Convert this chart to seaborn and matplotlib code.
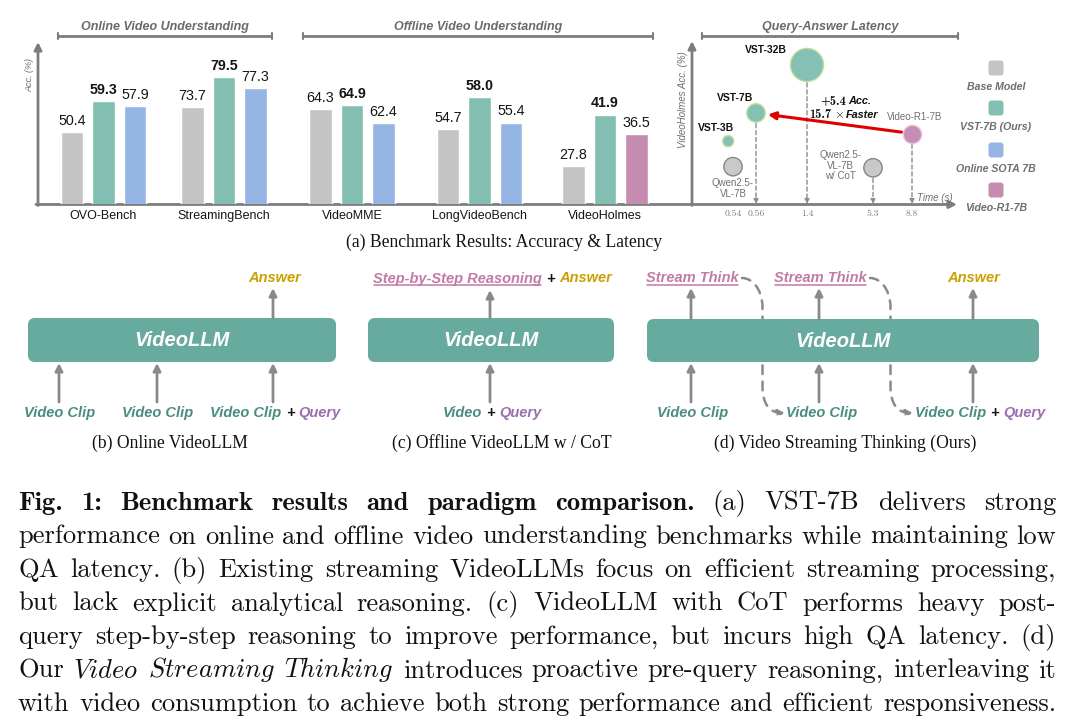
import numpy as np
import pandas as pd
import matplotlib
matplotlib.use("Agg")
import matplotlib.pyplot as plt
import seaborn as sns
from matplotlib.patches import FancyBboxPatch, FancyArrowPatch
from matplotlib.path import Path

# ---------------- data ----------------
BENCHMARKS = ["OVO-Bench", "StreamingBench", "VideoMME", "LongVideoBench", "VideoHolmes"]
BASE_ACC = [50.4, 73.7, 64.3, 54.7, 27.8]
VST7B_ACC = [59.3, 79.5, 64.9, 58.0, 41.9]
THIRD_ACC = [57.9, 77.3, 62.4, 55.4, 36.5]
THIRD_MODEL = ["Online SOTA 7B", "Online SOTA 7B", "Online SOTA 7B", "Online SOTA 7B", "Video-R1-7B"]

LAT_MODELS = ["VST-3B", "Qwen2.5-VL-7B", "VST-7B", "VST-32B", "Qwen2.5-VL-7B w/ CoT", "Video-R1-7B"]
LAT_TIME = [0.50, 0.54, 0.56, 1.4, 5.3, 8.8]
LAT_ACC = [34.5, 27.8, 41.9, 54.5, 27.5, 36.5]
LAT_PARAMS = [3, 7, 7, 32, 7, 7]
LAT_FAMILY = ["VST", "Base", "VST", "VST", "Base", "R1"]
TIME_TICKS = [0.54, 0.56, 1.4, 5.3, 8.8]
TIME_TICK_LABELS = ["0.54", "0.56", "1.4", "5.3", "8.8"]
DROP_LINES = ["VST-7B", "VST-32B", "Qwen2.5-VL-7B w/ CoT", "Video-R1-7B"]

LEGEND_LABELS = ["Base Model", "VST-7B (Ours)", "Online SOTA 7B", "Video-R1-7B"]

CAPTION = [
    [("b", "Fig. 1: Benchmark results and paradigm comparison."), ("r", "(a) VST-7B delivers strong")],
    [("r", "performance on online and offline video understanding benchmarks while maintaining low")],
    [("r", "QA latency. (b) Existing streaming VideoLLMs focus on efficient streaming processing,")],
    [("r", "but lack explicit analytical reasoning. (c) VideoLLM with CoT performs heavy post-")],
    [("r", "query step-by-step reasoning to improve performance, but incurs high QA latency. (d)")],
    [("r", "Our"), ("i", "Video Streaming Thinking"), ("r", "introduces proactive pre-query reasoning, interleaving it")],
    [("r", "with video consumption to achieve both strong performance and efficient responsiveness.")],
]

# ---------------- style ----------------
sns.set_style("white")
plt.rcParams["font.family"] = ["Liberation Sans", "DejaVu Sans"]
plt.rcParams["mathtext.fontset"] = "cm"

MODEL_COLORS = {"Base Model": "#c4c4c4", "VST-7B (Ours)": "#82bfb2",
                "Online SOTA 7B": "#95b5e4", "Video-R1-7B": "#c48cae"}
FAMILY_STYLE = {"VST": ("#84c0b3", "#bddc9e"), "Base": ("#c9c9c9", "#868686"),
                "R1": ("#c68db5", "#e6c8dc")}
SIZES = {3: 63, 7: 175, 32: 565}
AX_C = "#7d7d7d"
TITLE_C = "#6a6a6a"
LABEL_GRAY = "#6e6e6e"
BOX_C = "#67aa9e"
ARROW_C = "#8a8a8a"
CLIP_C = "#4b8c80"
QUERY_C = "#9a6fae"
ANSWER_C = "#c9a100"
THINK_C = "#c27aa8"

W, H = 1074, 726
fig = plt.figure(figsize=(W / 100, H / 100), dpi=100)
fig.patch.set_facecolor("white")


def rect(x0, y0, x1, y1):
    return [x0 / W, 1 - y1 / H, (x1 - x0) / W, (y1 - y0) / H]


# overlay axes in pixel coordinates (drawn first -> behind)
ov = fig.add_axes([0, 0, 1, 1])
ov.set_xlim(0, W)
ov.set_ylim(H, 0)
ov.axis("off")
renderer = fig.canvas.get_renderer()

# ---------------- (a) bar groups ----------------
bar_df = pd.DataFrame({
    "benchmark": np.repeat(BENCHMARKS, 3),
    "model": [m for i in range(len(BENCHMARKS)) for m in ("Base Model", "VST-7B (Ours)", THIRD_MODEL[i])],
    "acc": [v for trip in zip(BASE_ACC, VST7B_ACC, THIRD_ACC) for v in trip],
})
GROUP_CENTERS = [103.5, 224, 352, 479.5, 605]
YLIMS = [(29.7, 75.9), (54.8, 85.9), (51.5, 73.1), (47.1, 63.4), (17.3, 61.3)]
SLOT = 31.5
for i, b in enumerate(BENCHMARKS):
    c = GROUP_CENTERS[i]
    ax = fig.add_axes(rect(c - 1.5 * SLOT, 44, c + 1.5 * SLOT, 204))
    sub = bar_df[bar_df.benchmark == b]
    sns.barplot(data=sub, x="model", y="acc", hue="model", palette=MODEL_COLORS,
                width=0.73, saturation=1, errorbar=None, legend=False, ax=ax)
    ax.set_xlim(-0.5, 2.5)
    ax.set_ylim(*YLIMS[i])
    ax.set_facecolor("none")
    for s in ax.spines.values():
        s.set_visible(False)
    ax.set_yticks([])
    ax.set_xticks([1])
    ax.set_xticklabels([b], fontsize=9, color="#151515")
    ax.tick_params(axis="x", length=0, pad=4)
    ax.set_xlabel("")
    ax.set_ylabel("")
    for cont, m in zip(ax.containers, sub.model):
        ax.bar_label(cont, fmt="%.1f", padding=3, fontsize=10.3, color="#151515",
                     fontweight="bold" if m.startswith("VST") else "normal")

# axis arrows
arrow_kw = dict(arrowstyle="-|>", color=AX_C, lw=2, mutation_scale=11, shrinkA=0, shrinkB=0)
ov.annotate("", xy=(38, 42), xytext=(38, 205.5), arrowprops=arrow_kw)
ov.annotate("", xy=(957, 204.5), xytext=(36, 204.5), arrowprops=arrow_kw)
ov.annotate("", xy=(692, 41), xytext=(692, 205.5), arrowprops=arrow_kw)
ov.text(30, 75, "Acc. (%)", rotation=90, ha="center", va="center", fontsize=6.5,
        style="italic", color=LABEL_GRAY)
ov.text(683, 100, "VideoHolmes Acc. (%)", rotation=90, ha="center", va="center", fontsize=7,
        style="italic", color=LABEL_GRAY)
ov.text(935, 198, "Time (s)", ha="center", va="center", fontsize=7, style="italic", color=LABEL_GRAY)

# brackets with titles
for (x0, x1, title) in [(58, 272, "Online Video Understanding"),
                        (303, 653, "Offline Video Understanding"),
                        (702, 958, "Query-Answer Latency")]:
    ov.plot([x0, x1], [36, 36], color=AX_C, lw=2, solid_capstyle="butt")
    ov.plot([x0, x0], [33, 39], color=AX_C, lw=1.5)
    ov.plot([x1, x1], [33, 39], color=AX_C, lw=1.5)
    ov.text((x0 + x1) / 2, 27, title, ha="center", va="center", fontsize=9,
            fontweight="bold", style="italic", color=TITLE_C)

# ---------------- (a) latency scatter ----------------
lat = pd.DataFrame({"model": LAT_MODELS, "time": LAT_TIME, "acc": LAT_ACC,
                    "params": LAT_PARAMS, "family": LAT_FAMILY})
TIME_ANCH = [0.2, 0.54, 0.56, 1.4, 5.3, 8.8, 14.0]
SLOT_ANCH = [0, 41, 64, 115, 181, 220, 261]


def fwd(t):
    return np.interp(t, TIME_ANCH, SLOT_ANCH)


def inv(s):
    return np.interp(s, SLOT_ANCH, TIME_ANCH)


axs = fig.add_axes(rect(692, 44, 953, 204))
axs.set_xscale("function", functions=(fwd, inv))
for fam, (fc, ec) in FAMILY_STYLE.items():
    sns.scatterplot(data=lat[lat.family == fam], x="time", y="acc", size="params",
                    sizes=SIZES, color=fc, edgecolor=ec, linewidth=1, legend=False,
                    ax=axs, zorder=4)
axs.set_xlim(0.2, 14)
axs.set_ylim(18, 60)
axs.set_facecolor("none")
for s in axs.spines.values():
    s.set_visible(False)
axs.set_yticks([])
axs.set_xticks(TIME_TICKS)
axs.set_xticklabels(TIME_TICK_LABELS, fontsize=7, color="#7a7a7a", family="cmr10")
axs.tick_params(axis="x", length=0, pad=4)
axs.set_xlabel("")
axs.set_ylabel("")

radius = {m: np.sqrt(SIZES[p]) / 2 for m, p in zip(LAT_MODELS, LAT_PARAMS)}
for _, r in lat.iterrows():
    if r.model in DROP_LINES:
        axs.annotate("", xy=(r.time, 18), xytext=(r.time, r.acc),
                     arrowprops=dict(arrowstyle="-|>", color="#8c8c8c", lw=1,
                                     linestyle=(0, (3, 2)), mutation_scale=7,
                                     shrinkA=radius[r.model] + 1, shrinkB=0), zorder=2)

LABELS = {
    "VST-3B": ("VST-3B", (-12, 13), "bold", "#111111", 7.5),
    "VST-7B": ("VST-7B", (-21, 15), "bold", "#111111", 7.5),
    "VST-32B": ("VST-32B", (-41, 15), "bold", "#111111", 7.5),
    "Qwen2.5-VL-7B": ("Qwen2.5-\nVL-7B", (0, -22), "normal", "#707070", 7),
    "Qwen2.5-VL-7B w/ CoT": ("Qwen2.5-\nVL-7B\nw/ CoT", (-33, 2), "normal", "#707070", 7),
    "Video-R1-7B": ("Video-R1-7B", (3, 17), "normal", "#707070", 7),
}
for _, r in lat.iterrows():
    txt, off, fw, col, fs = LABELS[r.model]
    axs.annotate(txt, xy=(r.time, r.acc), xytext=off, textcoords="offset pixels",
                 ha="center", va="center", fontsize=fs, fontweight=fw, color=col,
                 linespacing=1.05, zorder=5)

p_r1 = lat[lat.model == "Video-R1-7B"].iloc[0]
p_7b = lat[lat.model == "VST-7B"].iloc[0]
axs.annotate("", xy=(p_7b.time, p_7b.acc), xytext=(p_r1.time, p_r1.acc),
             arrowprops=dict(arrowstyle="-|>", color="#e00000", lw=2.2, mutation_scale=11,
                             shrinkA=radius["Video-R1-7B"] + 1, shrinkB=radius["VST-7B"] + 2),
             zorder=3)


def inline(x, y, parts, gap=2.5):
    """Left-to-right run of differently styled text pieces (x = left, y = baseline)."""
    for s, kw in parts:
        t = ov.text(x, y, s, ha="left", va="baseline", color="#111111", zorder=6, **kw)
        x += t.get_window_extent(renderer).width + gap


NUM_KW = dict(family="cmb10", fontsize=9)
WORD_KW = dict(fontsize=7.8, fontweight="bold", style="italic")
inline(820, 104, [("+5.4", NUM_KW), ("Acc.", WORD_KW)])
inline(809, 117.5, [("15.7", NUM_KW), (r"$\times$", dict(fontsize=9)), ("Faster", WORD_KW)])

# legend
for lab, yc, yl in zip(LEGEND_LABELS, [68, 108, 150, 190], [87, 127, 169, 208]):
    ov.add_patch(FancyBboxPatch((988.5, yc - 7.5), 15, 15,
                                boxstyle="round,pad=0,rounding_size=3",
                                fc=MODEL_COLORS[lab], ec="none"))
    ov.text(996, yl, lab, ha="center", va="center", fontsize=7.6, fontweight="bold",
            style="italic", color=LABEL_GRAY)

ov.text(504, 242, "(a) Benchmark Results: Accuracy & Latency", ha="center", va="center",
        fontsize=12.7, family="Liberation Serif", color="#111111")


# ---------------- (b)(c)(d) diagrams ----------------
def rich(xc, y, parts, size=10.5, gap=4.5):
    texts, widths = [], []
    for s, col, ul in parts:
        t = ov.text(0, y, s, color=col, fontsize=size, fontweight="bold", style="italic",
                    ha="left", va="baseline", zorder=5)
        w = t.get_window_extent(renderer).width
        texts.append((t, ul))
        widths.append(w)
    total = sum(widths) + gap * (len(parts) - 1)
    x = xc - total / 2
    for (t, ul), w in zip(texts, widths):
        t.set_x(x)
        if ul:
            ov.plot([x + 1, x + w - 1], [y + 2.6, y + 2.6], color=THINK_C, lw=1.1, zorder=5)
        x += w + gap


def box(x0, y0, x1, y1):
    ov.add_patch(FancyBboxPatch((x0, y0), x1 - x0, y1 - y0,
                                boxstyle="round,pad=0,rounding_size=7",
                                fc=BOX_C, ec="none", zorder=3))
    ov.text((x0 + x1) / 2, (y0 + y1) / 2 + 1, "VideoLLM", ha="center", va="center",
            fontsize=14.5, fontweight="bold", style="italic", color="white", zorder=4)


def up(x, y0, y1):
    ov.annotate("", xy=(x, y1), xytext=(x, y0),
                arrowprops=dict(arrowstyle="-|>", color=ARROW_C, lw=2, mutation_scale=11,
                                shrinkA=0, shrinkB=0), zorder=4)


VC = ("Video Clip", CLIP_C, False)
PLUS = ("+", "#111111", False)
QRY = ("Query", QUERY_C, False)
ANS = ("Answer", ANSWER_C, False)
IN_Y, OUT_Y = 417, 282.5

# (b)
box(28, 318, 336, 362)
for x in (59, 157, 273):
    up(x, 402, 363)
up(273, 318, 288)
rich(60, IN_Y, [VC])
rich(158, IN_Y, [VC])
rich(275.5, IN_Y, [VC, PLUS, QRY])
rich(275, OUT_Y, [ANS])

# (c)
box(368, 318, 614, 362)
up(490, 402, 363)
up(490, 318, 290)
rich(492, IN_Y, [("Video", CLIP_C, False), PLUS, QRY])
rich(492.5, OUT_Y, [("Step-by-Step Reasoning", THINK_C, True), PLUS, ANS])

# (d)
box(647, 319, 1039, 362)
for x in (691, 819, 973):
    up(x, 402, 363)
    up(x, 319, 288)
rich(693, IN_Y, [VC])
rich(822, IN_Y, [VC])
rich(980, IN_Y, [VC, PLUS, QRY])
rich(692.5, OUT_Y, [("Stream Think", THINK_C, True)])
rich(820.5, OUT_Y, [("Stream Think", THINK_C, True)])
rich(974, OUT_Y, [ANS])

for dx in (0, 128):
    verts = [(742 + dx, 278), (752 + dx, 278), (761.5 + dx, 288), (762.5 + dx, 306),
             (762.5 + dx, 386), (762.5 + dx, 405), (770 + dx, 413), (785 + dx, 413)]
    codes = [Path.MOVETO, Path.CURVE4, Path.CURVE4, Path.CURVE4,
             Path.LINETO, Path.CURVE4, Path.CURVE4, Path.CURVE4]
    ov.add_patch(FancyArrowPatch(path=Path(verts, codes), arrowstyle="-|>", mutation_scale=10,
                                 color=ARROW_C, lw=1.8, linestyle=(0, (3.5, 3)), zorder=1))

for xc, txt in [(170, "(b) Online VideoLLM"), (502, "(c) Offline VideoLLM w / CoT"),
                (845, "(d) Video Streaming Thinking (Ours)")]:
    ov.text(xc, 443, txt, ha="center", va="center", fontsize=12.7,
            family="Liberation Serif", color="#111111")

# ---------------- caption paragraph (justified) ----------------
X0, X1 = 18, 1056
BASE0, LEAD = 510, 33.5


def word_text(w, st, size):
    if st == "i":
        return ov.text(0, 0, r"$\mathit{" + w + "}$", fontsize=size, color="#111111",
                       ha="left", va="baseline")
    fam = "cmb10" if st == "b" else "cmr10"
    return ov.text(0, 0, w, fontsize=size, family=fam, color="#111111",
                   ha="left", va="baseline")


lines_words = [[(w, st) for st, seg in line for w in seg.split()] for line in CAPTION]
# font size such that the tightest line has ~normal interword spacing
fit = []
for words in lines_words:
    tot = 0
    for w, st in words:
        t = word_text(w, st, 10)
        tot += t.get_window_extent(renderer).width
        t.remove()
    fit.append((X1 - X0) / (tot / 10 + (len(words) - 1) * 0.3 * 100 / 72))
FS = min(fit)

for li, words in enumerate(lines_words):
    y = BASE0 + li * LEAD
    texts = [word_text(w, st, FS) for w, st in words]
    widths = [t.get_window_extent(renderer).width for t in texts]
    gap = (X1 - X0 - sum(widths)) / (len(texts) - 1)
    x = X0
    for t, w in zip(texts, widths):
        t.set_position((x, y))
        x += w + gap

fig.savefig("out.png", dpi=100)
